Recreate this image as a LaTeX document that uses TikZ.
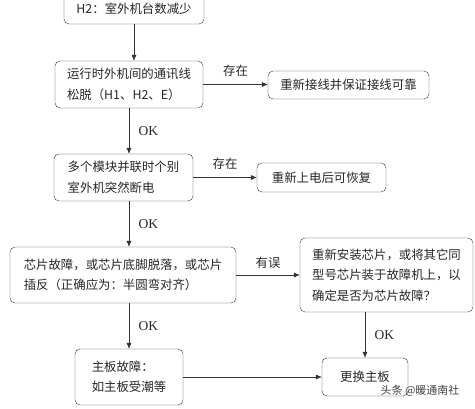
\documentclass[tikz,border=0pt]{standalone}
\usepackage{fontspec}
\setmainfont{Liberation Serif}
\newfontfamily\cjk{Noto Sans CJK SC}
\usetikzlibrary{arrows.meta}

\begin{document}
\begin{tikzpicture}[x=1pt,y=-1pt,
  box/.style={draw=black!80, rounded corners=5pt, align=left, font=\cjk\fontsize{12.4}{20.5}\selectfont, text=black!85},
  arr/.style={draw=black!80, -{Latex[length=6pt,width=5pt]}},
  cnd/.style={font=\cjk\fontsize{12.4}{14}\selectfont, text=black!85},
  ok/.style={font=\fontsize{13.5}{15}\selectfont, text=black!85}]
\useasboundingbox (0,0) rectangle (475,408);
\clip (0,0) rectangle (475,408);
\node[box, minimum width=140pt, minimum height=30pt] (top) at (134,9) {H2：室外机台数减少};
\node[box, minimum width=148pt, minimum height=47pt] (comm) at (129,84.5) {运行时外机间的通讯线\\松脱（H1、H2、E）};
\node[box, minimum width=161pt, minimum height=28pt] (rewire) at (348.5,85) {重新接线并保证接线可靠};
\node[box, minimum width=139pt, minimum height=47pt] (power) at (123.5,177.5) {多个模块并联时个别\\室外机突然断电};
\node[box, minimum width=129pt, minimum height=29pt] (repower) at (321.5,177.5) {重新上电后可恢复};
\node[box, minimum width=226pt, minimum height=56pt] (chip) at (123,275) {芯片故障，或芯片底脚脱落，或芯片\\插反（正确应为：半圆弯对齐）};
\node[box, minimum width=173pt, minimum height=74pt] (reinstall) at (386.5,275) {重新安装芯片，或将其它同\\型号芯片装于故障机上，以\\确定是否为芯片故障？};
\node[box, minimum width=108pt, minimum height=56pt] (board) at (129,377) {主板故障：\\如主板受潮等};
\node[box, minimum width=86pt, minimum height=38pt] (replace) at (365,377) {更换主板};

\draw[arr] (top.south) -- (top.south |- comm.north);
\draw[arr] (comm.east) -- (comm.east -| rewire.west) node[cnd, midway, above=4pt] {存在};
\draw[arr] (comm.south) -- (comm.south |- power.north) node[ok, midway, right=6pt] {OK};
\draw[arr] (power.east) -- (power.east -| repower.west) node[cnd, midway, above=4pt] {存在};
\draw[arr] (comm.south |- power.south) -- (comm.south |- chip.north) node[ok, midway, right=6pt] {OK};
\draw[arr] (chip.east) -- (chip.east -| reinstall.west) node[cnd, midway, above=3pt] {有误};
\draw[arr] (board.north |- chip.south) -- (board.north) node[ok, midway, right=6pt] {OK};
\draw[arr] (replace.north |- reinstall.south) -- (replace.north) node[ok, midway, right=6pt] {OK};
\draw[arr] (board.east) -- (board.east -| replace.west);

\node[font=\cjk\fontsize{11}{12}\selectfont, text=black!75] (mark) at (420,391) {头条 @暖通南社};
\end{tikzpicture}
\end{document}
